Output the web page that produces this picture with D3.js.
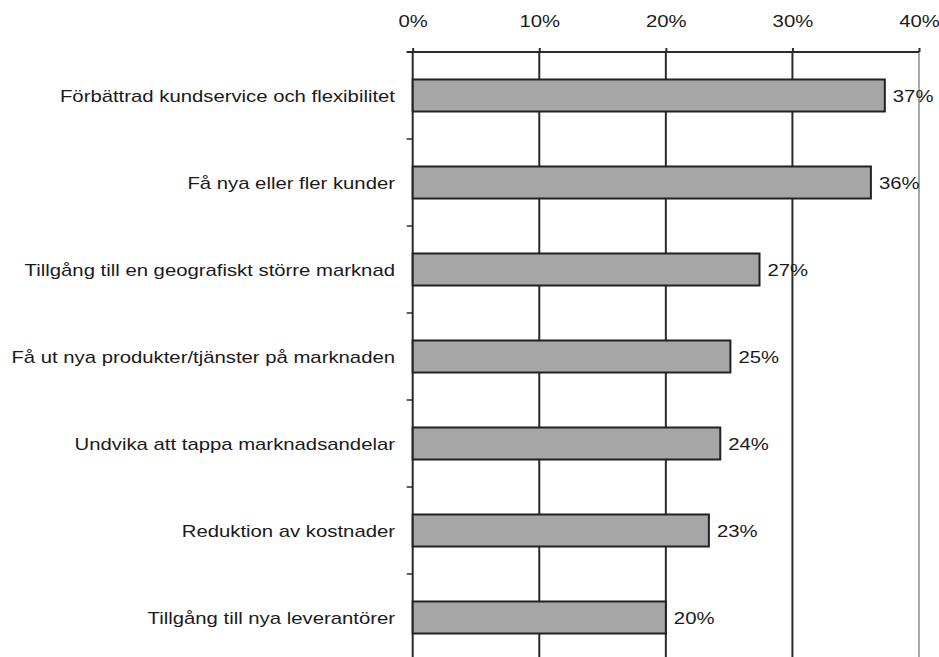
<!DOCTYPE html>
<html>
<head>
<meta charset="utf-8">
<script src="https://cdn.jsdelivr.net/npm/d3@7"></script>
<style>
  html, body { margin: 0; padding: 0; background: #fff; }
  svg { display: block; }
  text { font-family: "Liberation Sans", Arial, sans-serif; fill: #1a1a1a; }
</style>
</head>
<body>
<svg id="chart" width="939" height="657"></svg>
<script>
const categories = [
  "Förbättrad kundservice och flexibilitet",
  "Få nya eller fler kunder",
  "Tillgång till en geografiskt större marknad",
  "Få ut nya produkter/tjänster på marknaden",
  "Undvika att tappa marknadsandelar",
  "Reduktion av kostnader",
  "Tillgång till nya leverantörer"
];
const values = [0.373, 0.362, 0.274, 0.251, 0.243, 0.234, 0.200];
const valueLabels = ["37%", "36%", "27%", "25%", "24%", "23%", "20%"];
const tickValues = [0, 0.1, 0.2, 0.3, 0.4];
const tickLabels = ["0%", "10%", "20%", "30%", "40%"];

const svg = d3.select("#chart");
const sx = 1.27;       // horizontal text stretch
const fontSize = 16;

const x = d3.scaleLinear().domain([0, 0.4]).range([412.7, 919]);
const y = d3.scaleBand().domain(categories).range([52, 661])
  .paddingInner(0.632).paddingOuter(0.316);
const step = y.step();

// gridlines
svg.append("g").selectAll("line").data(tickValues.slice(1)).join("line")
  .attr("x1", d => x(d)).attr("x2", d => x(d))
  .attr("y1", 52).attr("y2", 661)
  .attr("stroke", (d, i) => i === tickValues.length - 2 ? "#a8a8a8" : "#2a2a2a")
  .attr("stroke-width", 2);

// top axis
const xAxis = d3.axisTop(x).tickValues(tickValues)
  .tickFormat((d, i) => tickLabels[i]).tickSizeInner(4).tickSizeOuter(0);
const gx = svg.append("g").attr("transform", "translate(0,52)").call(xAxis);
gx.select(".domain").attr("stroke", "#2a2a2a").attr("stroke-width", 2)
  .attr("d", `M${x(0) - 6},0H${x(0.4)}`);
gx.selectAll(".tick line").attr("stroke", "#2a2a2a").attr("stroke-width", 2);
gx.selectAll(".tick text").remove();
gx.selectAll(".tick").append("g")
  .attr("transform", `translate(0,-25) scale(${sx},1)`)
  .append("text")
  .attr("text-anchor", "middle")
  .style("font-size", fontSize + "px")
  .text((d, i) => tickLabels[i]);

// left axis line and category boundary ticks
svg.append("line")
  .attr("x1", x(0)).attr("x2", x(0)).attr("y1", 52).attr("y2", 661)
  .attr("stroke", "#2a2a2a").attr("stroke-width", 2);
svg.append("g").selectAll("line").data(categories).join("line")
  .attr("x1", x(0) - 6).attr("x2", x(0))
  .attr("y1", d => y(d) - y.paddingOuter() * step)
  .attr("y2", d => y(d) - y.paddingOuter() * step)
  .attr("stroke", "#2a2a2a").attr("stroke-width", 1.5);

// bars
svg.append("g").selectAll("rect").data(categories).join("rect")
  .attr("x", x(0))
  .attr("y", d => y(d))
  .attr("width", (d, i) => x(values[i]) - x(0))
  .attr("height", y.bandwidth())
  .attr("fill", "#a6a6a6")
  .attr("stroke", "#222")
  .attr("stroke-width", 2);

// category labels
svg.append("g").selectAll("g").data(categories).join("g")
  .attr("transform", d => `translate(395,${y(d) + y.bandwidth() / 2 + 6}) scale(${sx},1)`)
  .append("text")
  .attr("text-anchor", "end")
  .style("font-size", fontSize + "px")
  .text(d => d);

// value labels
svg.append("g").selectAll("g").data(categories).join("g")
  .attr("transform", (d, i) => `translate(${x(values[i]) + 8},${y(d) + y.bandwidth() / 2 + 6}) scale(${sx},1)`)
  .append("text")
  .attr("text-anchor", "start")
  .style("font-size", fontSize + "px")
  .text((d, i) => valueLabels[i]);
</script>
</body>
</html>
